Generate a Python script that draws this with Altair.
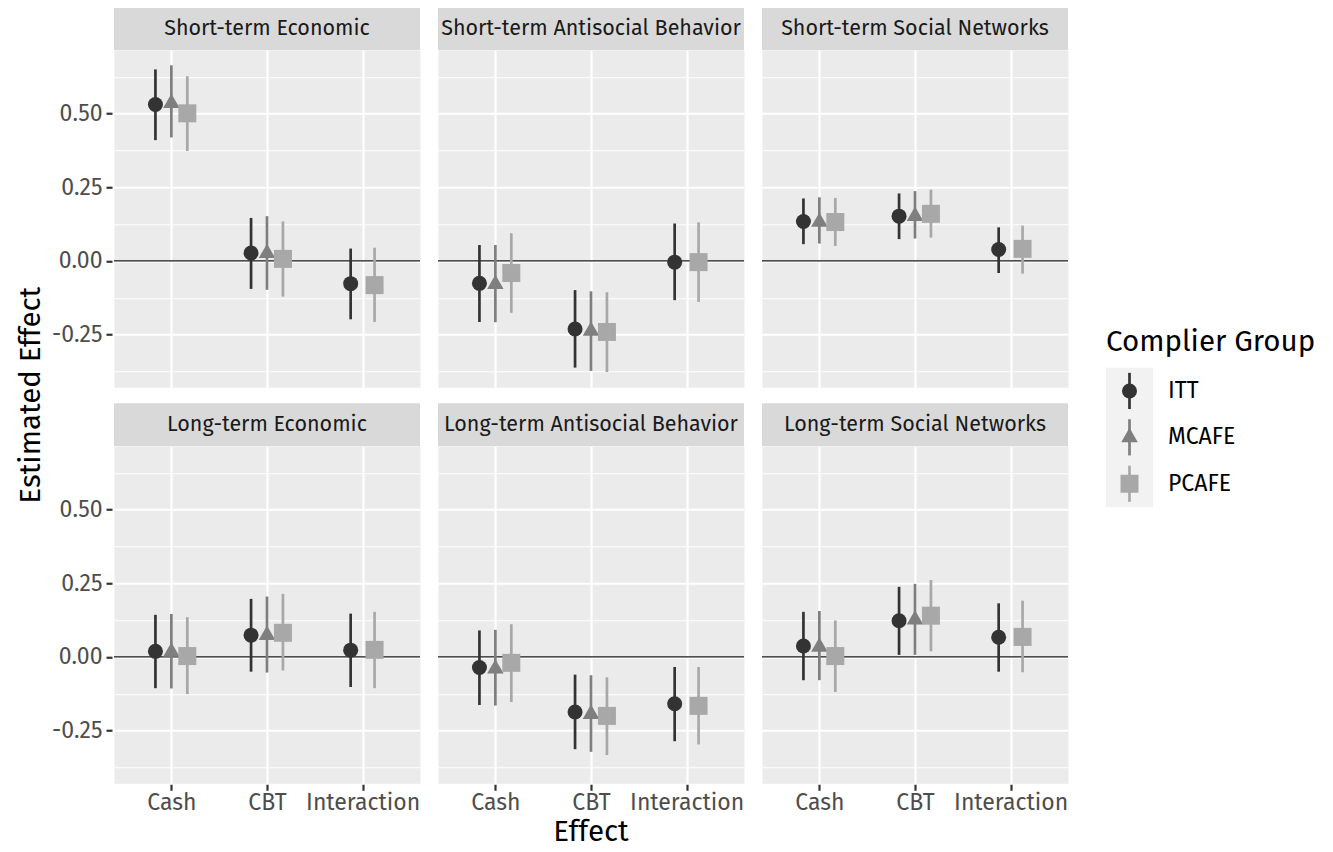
import json
import altair as alt
import pandas as pd

FONT = "Fira Sans, Open Sans, sans-serif"

terms = ["Short-term", "Long-term"]
domains = ["Economic", "Antisocial Behavior", "Social Networks"]
effects = ["Cash", "CBT", "Interaction"]
groups = ["ITT", "MCAFE", "PCAFE"]
group_colors = ["#333333", "#7F7F7F", "#A8A8A8"]

# cells inside each panel (Interaction has no MCAFE estimate)
cell_effect = ["Cash", "Cash", "Cash", "CBT", "CBT", "CBT", "Interaction", "Interaction"]
cell_group = ["ITT", "MCAFE", "PCAFE", "ITT", "MCAFE", "PCAFE", "ITT", "PCAFE"]

# panel order: ST Econ, ST Antisocial, ST Social, LT Econ, LT Antisocial, LT Social
estimate = [
    0.531, 0.535, 0.501, 0.027, 0.026, 0.007, -0.077, -0.082,
    -0.076, -0.079, -0.041, -0.231, -0.238, -0.241, -0.004, -0.004,
    0.134, 0.132, 0.132, 0.152, 0.152, 0.160, 0.039, 0.041,
    0.019, 0.017, 0.003, 0.074, 0.074, 0.082, 0.023, 0.024,
    -0.036, -0.040, -0.020, -0.187, -0.194, -0.200, -0.159, -0.166,
    0.037, 0.034, 0.003, 0.123, 0.126, 0.140, 0.067, 0.068,
]
lower = [
    0.410, 0.419, 0.373, -0.095, -0.098, -0.121, -0.198, -0.207,
    -0.207, -0.208, -0.176, -0.362, -0.373, -0.377, -0.133, -0.139,
    0.057, 0.059, 0.051, 0.074, 0.076, 0.079, -0.041, -0.043,
    -0.106, -0.107, -0.126, -0.050, -0.053, -0.046, -0.102, -0.106,
    -0.163, -0.165, -0.153, -0.313, -0.322, -0.333, -0.286, -0.297,
    -0.079, -0.079, -0.119, 0.007, 0.007, 0.019, -0.050, -0.052,
]
upper = [
    0.650, 0.664, 0.627, 0.146, 0.152, 0.134, 0.042, 0.045,
    0.054, 0.054, 0.094, -0.099, -0.103, -0.106, 0.127, 0.131,
    0.212, 0.216, 0.214, 0.229, 0.237, 0.242, 0.114, 0.120,
    0.143, 0.146, 0.135, 0.197, 0.205, 0.214, 0.147, 0.153,
    0.090, 0.092, 0.111, -0.060, -0.062, -0.069, -0.034, -0.034,
    0.153, 0.156, 0.124, 0.238, 0.248, 0.261, 0.182, 0.191,
]

y_major = [-0.25, 0.0, 0.25, 0.5]
y_minor = [-0.375, -0.125, 0.125, 0.375, 0.625]
y_domain = [-0.4286, 0.715]

rows = []
i = 0
for t in terms:
    for d in domains:
        for e, g in zip(cell_effect, cell_group):
            rows.append(dict(term=t, domain=d, panel=f"{t} {d}", effect=e, group=g,
                             estimate=estimate[i], lower=lower[i], upper=upper[i]))
            i += 1
df = pd.DataFrame(rows)
keys = ["term", "domain", "effect"]
df["n"] = df.groupby(keys)["group"].transform("count")
df["k"] = df.groupby(keys).cumcount()
DODGE = 0.5
df["xpos"] = df["effect"].map(effects.index) + (df["k"] - (df["n"] - 1) / 2) * DODGE / df["n"]
df = df.drop(columns=["n", "k"])

W, H, STRIP = 306, 337, 43
LABEL_SIZE = 23
STRIP_SIZE = 21.5
TITLE_SIZE = 29.5
ERR_W = 2.7

tri_path = "M0,-1.155L1,0.577L-1,0.577Z"
shape_scale = alt.Scale(domain=groups, range=["circle", tri_path, "square"])
size_scale = alt.Scale(domain=groups, range=[225, 324, 256])
color_scale = alt.Scale(domain=groups, range=group_colors)

major_test = "abs(datum.value*4 - round(datum.value*4)) < 0.000001"
y_axis = alt.Axis(
    values=y_major + y_minor,
    labelExpr=f"{major_test} ? replace(format(datum.value, '.2f'), '\u2212', '-') : ''",
    title=None,
    grid=True, gridColor="white",
    gridWidth={"condition": {"test": major_test, "value": 2.2}, "value": 1.1},
    tickOpacity={"condition": {"test": major_test, "value": 1}, "value": 0},
    tickColor="#333333", tickWidth=2.2, tickSize=6,
    domain=False, labelFontSize=LABEL_SIZE, labelColor="#4D4D4D", labelFont=FONT,
    labelPadding=4,
)
y_scale = alt.Scale(domain=y_domain, nice=False, zero=False)

x_axis = alt.Axis(
    values=[0, 1, 2],
    labelExpr=f"{json.dumps(effects)}[datum.value]",
    title=None, grid=True, gridColor="white", gridWidth=2.2,
    tickColor="#333333", tickWidth=2.2, tickSize=6, domain=False,
    labelFontSize=LABEL_SIZE, labelColor="#4D4D4D", labelFont=FONT, labelPadding=1,
)
x_scale = alt.Scale(domain=[-0.6, 2.6], nice=False, zero=False)
x_enc = alt.X("xpos:Q", scale=x_scale, axis=x_axis)

base = alt.Chart()

strip_rect = base.transform_aggregate(
    cnt="count()", groupby=["term", "domain", "panel"]
).mark_rect(color="#D9D9D9").encode(
    x=alt.value(0), x2=alt.value(W), y=alt.value(-STRIP), y2=alt.value(0)
)
strip_text = base.transform_aggregate(
    cnt="count()", groupby=["term", "domain", "panel"]
).mark_text(font=FONT, fontSize=STRIP_SIZE, color="#1A1A1A", baseline="middle").encode(
    x=alt.value(W / 2), y=alt.value(-STRIP / 2), text="panel:N"
)
zero_line = base.transform_aggregate(
    cnt="count()", groupby=["term", "domain"]
).transform_calculate(zero="0").mark_rule(color="#1A1A1A", strokeWidth=1.3).encode(
    y=alt.Y("zero:Q", scale=y_scale, axis=y_axis)
)
err = base.mark_rule(strokeWidth=ERR_W).encode(
    x=x_enc,
    y=alt.Y("lower:Q", scale=y_scale, axis=y_axis),
    y2="upper:Q",
    color=alt.Color("group:N", scale=color_scale, legend=None),
)
pts = base.mark_point(filled=True, opacity=1, strokeWidth=0).encode(
    x=x_enc,
    y=alt.Y("estimate:Q", scale=y_scale, axis=y_axis),
    color=alt.Color("group:N", scale=color_scale, legend=None),
    shape=alt.Shape("group:N", scale=shape_scale, legend=None),
    size=alt.Size("group:N", scale=size_scale, legend=None),
)

panel = alt.layer(zero_line, err, pts, strip_rect, strip_text).properties(width=W, height=H)

facet = panel.facet(
    data=df,
    row=alt.Row("term:N", sort=terms, header=alt.Header(
        labels=False, title="Estimated Effect", titleOrient="left", titleFont=FONT,
        titleFontSize=TITLE_SIZE, titleFontWeight="normal", titleColor="black", titlePadding=-5)),
    column=alt.Column("domain:N", sort=domains, header=alt.Header(
        labels=False, title="Effect", titleOrient="bottom", titleFont=FONT,
        titleFontSize=TITLE_SIZE, titleFontWeight="normal", titleColor="black", titlePadding=-6)),
    spacing={"row": 14, "column": 14},
)

# legend: key background + point-range glyphs + labels
KEY_EXTRA = 0.47  # empty space below the keys (in key units) to lift the centred legend
legend_df = pd.DataFrame({"group": groups, "slot": list(range(len(groups)))})
legend_df["lo"] = legend_df["slot"] - 0.39
legend_df["hi"] = legend_df["slot"] + 0.39
ly = alt.Scale(domain=[-0.5, len(groups) - 0.5 + KEY_EXTRA], reverse=True, nice=False, zero=False)
lbase = alt.Chart(legend_df)
legend = alt.layer(
    lbase.transform_aggregate(smin="min(slot)", smax="max(slot)").transform_calculate(
        b0="datum.smin - 0.5", b1="datum.smax + 0.5"
    ).mark_rect(color="#F2F2F2").encode(
        x=alt.value(0), x2=alt.value(47), y=alt.Y("b0:Q", scale=ly, axis=None), y2="b1:Q"),
    lbase.mark_rule(strokeWidth=ERR_W).encode(
        x=alt.value(23.5), y=alt.Y("lo:Q", scale=ly, axis=None), y2="hi:Q",
        color=alt.Color("group:N", scale=color_scale, legend=None)),
    lbase.mark_point(filled=True, opacity=1, strokeWidth=0).encode(
        x=alt.value(23.5), y=alt.Y("slot:Q", scale=ly, axis=None),
        color=alt.Color("group:N", scale=color_scale, legend=None),
        shape=alt.Shape("group:N", scale=shape_scale, legend=None),
        size=alt.Size("group:N", scale=size_scale, legend=None)),
    lbase.mark_text(align="left", baseline="middle", font=FONT, fontSize=LABEL_SIZE, color="black").encode(
        x=alt.value(62), y=alt.Y("slot:Q", scale=ly, axis=None), text="group:N"),
).properties(
    width=47, height=int(round(139 * (3 + KEY_EXTRA) / 3)),
    title=alt.TitleParams("Complier Group", anchor="start", font=FONT, fontSize=TITLE_SIZE,
                          fontWeight="normal", color="black", offset=10),
    view=alt.ViewBackground(fill="white", stroke="transparent"),
)

chart = alt.hconcat(facet, legend, spacing=35, center=True).properties(
    padding={"left": 7, "top": -2, "right": 5, "bottom": 6}
).configure(font=FONT).configure_view(fill="#EBEBEB", stroke="transparent")

chart.save("out.html", embed_options={"renderer": "svg", "actions": False})
